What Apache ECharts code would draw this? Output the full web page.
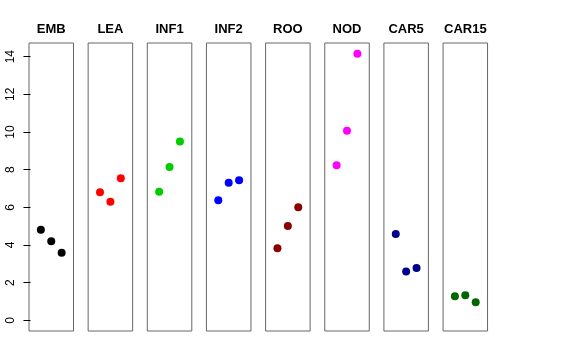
<!DOCTYPE html>
<html><head><meta charset="utf-8">
<script src="https://cdn.jsdelivr.net/npm/echarts@6/dist/echarts.min.js"></script>
<style>html,body{margin:0;padding:0;background:#fff}#c{width:576px;height:360px}</style>
</head><body><div id="c"></div>
<script>
const categories = ['EMB','LEA','INF1','INF2','ROO','NOD','CAR5','CAR15'];
const colors = ['#000000','#FF0000','#00CD00','#0000FF','#8B0000','#FF00FF','#00008B','#006400'];
const EMB = [4.81, 4.20, 3.59];
const LEA = [6.80, 6.30, 7.54];
const INF1 = [6.83, 8.14, 9.49];
const INF2 = [6.37, 7.31, 7.44];
const ROO = [3.83, 5.01, 6.00];
const NOD = [8.23, 10.07, 14.16];
const CAR5 = [4.59, 2.59, 2.78];
const CAR15 = [1.28, 1.33, 0.96];
const yTicks = [0, 2, 4, 6, 8, 10, 12, 14];
const seriesValues = [EMB, LEA, INF1, INF2, ROO, NOD, CAR5, CAR15];

const chart = echarts.init(document.getElementById('c'));
const yMax = 14.16, yLo = -0.04 * yMax, yHi = yMax * 1.04;
const grids = [], xAxes = [], yAxes = [], series = [], graphics = [];
categories.forEach((name, i) => {
  const left = 29 + i * 59.15;
  grids.push({left: left, top: 43, width: 44.5, height: 288, show: true, borderColor: '#666', borderWidth: 1, backgroundColor: 'transparent'});
  xAxes.push({gridIndex: i, type: 'value', min: 2 - 2.14, max: 2 + 2.14, show: false});
  yAxes.push({
    gridIndex: i, type: 'value', min: yLo, max: yHi, show: i === 0,
    splitLine: {show: false},
    axisLine: {show: false},
    axisTick: {show: i === 0, customValues: yTicks, length: 7, lineStyle: {color: '#000'}},
    axisLabel: {show: i === 0, customValues: yTicks, rotate: 90, margin: 12, color: '#000', fontSize: 12, fontFamily: 'Liberation Sans, Arial, sans-serif'}
  });
  series.push({
    type: 'scatter', xAxisIndex: i, yAxisIndex: i, symbolSize: 8,
    itemStyle: {color: colors[i], opacity: 1},
    data: seriesValues[i].map((v, j) => [j + 1, v])
  });
  graphics.push({type: 'text', x: left + 22.25, y: 29, style: {text: name, fill: '#000', font: 'bold 13px Liberation Sans, Arial, sans-serif', textAlign: 'center', textVerticalAlign: 'middle'}});
});
chart.setOption({
  animation: false,
  grid: grids, xAxis: xAxes, yAxis: yAxes, series: series, graphic: graphics
});
</script></body></html>
